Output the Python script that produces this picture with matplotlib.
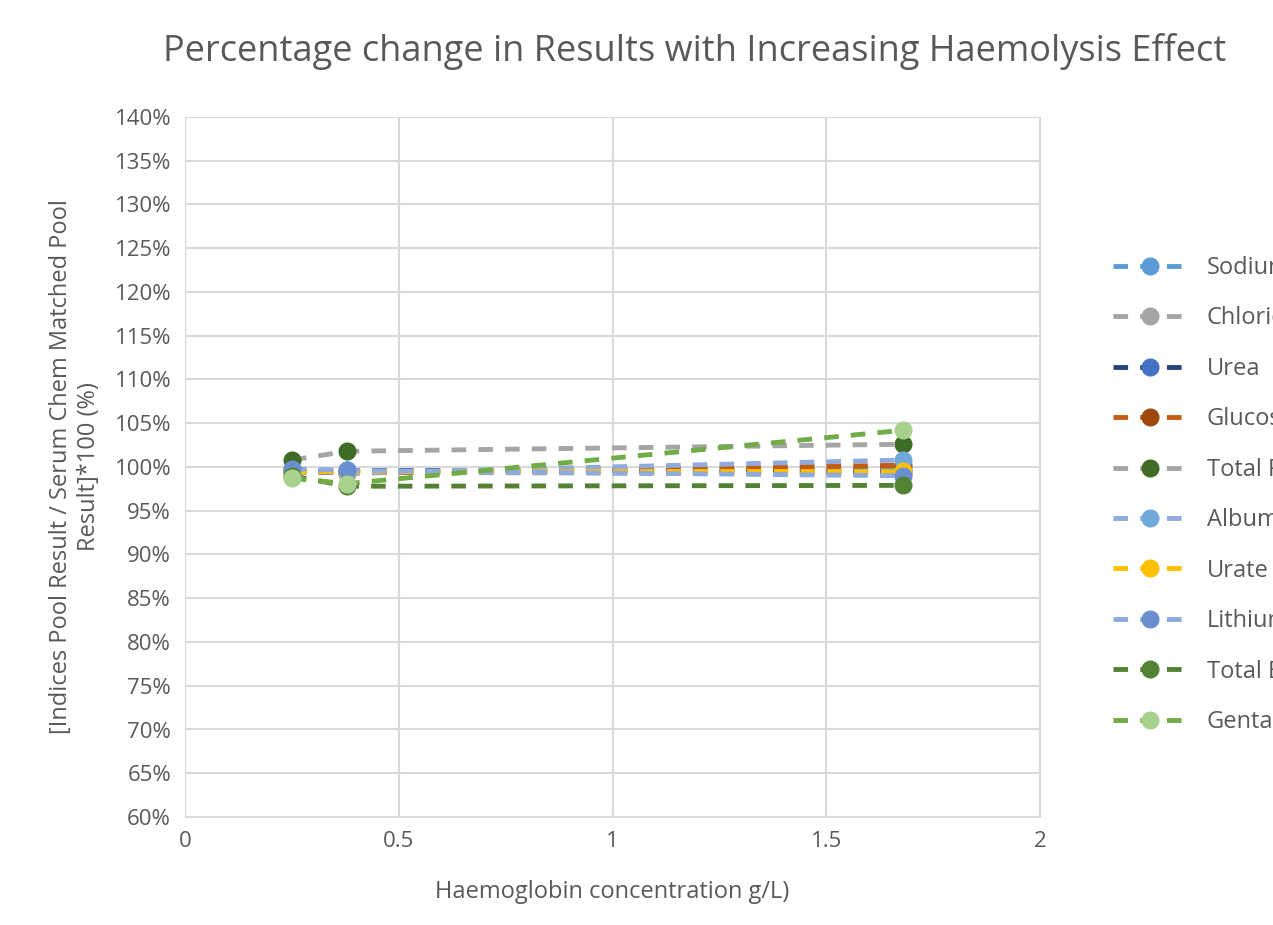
import matplotlib
matplotlib.use("Agg")
import matplotlib.pyplot as plt
from matplotlib.ticker import FuncFormatter

plt.rcParams['font.family'] = ['Open Sans', 'DejaVu Sans']

x = [0.25, 0.38, 1.68]
names = ["Sodium", "Chloride", "Urea", "Glucose", "Total Protein", "Albumin",
         "Urate", "Lithium", "Total Bilirubin", "Gentamicin"]
sodium = [99.6, 99.5, 99.8]
chloride = [99.4, 99.4, 99.2]
urea = [99.5, 99.6, 99.5]
glucose = [99.5, 99.3, 100.2]
total_protein = [100.8, 101.8, 102.6]
albumin = [99.6, 99.3, 100.8]
urate = [99.5, 99.5, 99.5]
lithium = [99.8, 99.6, 99.0]
total_bili = [99.0, 97.8, 97.9]
gentamicin = [98.7, 98.1, 104.2]
series = [sodium, chloride, urea, glucose, total_protein, albumin, urate, lithium, total_bili, gentamicin]

line_colors = ["#5B9BD5", "#A5A5A5", "#264478", "#C55A11", "#A5A5A5", "#8FAADC",
               "#FFC000", "#8FAADC", "#548235", "#70AD47"]
marker_colors = ["#5B9BD5", "#A5A5A5", "#4472C4", "#9E480E", "#3E6B26", "#70A8DC",
                 "#FFC000", "#6A8FD0", "#548235", "#A9D18E"]

fig = plt.figure(figsize=(12.73, 9.25), dpi=100)
ax = fig.add_axes([185/1273, 1-817/925, (1040-185)/1273, (817-117)/925])
for s, n, lc, mc in zip(series, names, line_colors, marker_colors):
    ax.plot(x, s, linestyle=(0, (3, 2.5)), color=lc, lw=3.5, marker="o", ms=12,
            markerfacecolor=mc, markeredgecolor=mc, label=n)

ax.set_xlim(0, 2)
ax.set_ylim(60, 140)
ax.set_xticks([0, 0.5, 1, 1.5, 2])
ax.set_xticklabels(["0", "0.5", "1", "1.5", "2"])
ax.set_yticks(range(60, 141, 5))
ax.yaxis.set_major_formatter(FuncFormatter(lambda v, p: f"{v:.0f}%"))
ax.grid(True, color="#D9D9D9", lw=1.5)
ax.set_axisbelow(True)
for sp in ax.spines.values():
    sp.set_color("#D9D9D9")
ax.tick_params(length=0, labelsize=16, colors="#595959", pad=10)
ax.set_xlabel("Haemoglobin concentration g/L)", fontsize=17, color="#595959", labelpad=20)
ax.set_ylabel("[Indices Pool Result / Serum Chem Matched Pool\nResult]*100 (%)",
              fontsize=17, color="#595959", labelpad=10)
fig.text(163/1273, 1-52/925, "Percentage change in Results with Increasing Haemolysis Effect",
         fontsize=26, color="#595959", va="center", ha="left")
leg = ax.legend(loc="center left", bbox_to_anchor=(1.06, 0.46), frameon=False,
                fontsize=17, labelspacing=1.12, handlelength=3.2, handletextpad=0.8)
for t in leg.get_texts():
    t.set_color("#595959")
fig.savefig("out.png", dpi=100)
